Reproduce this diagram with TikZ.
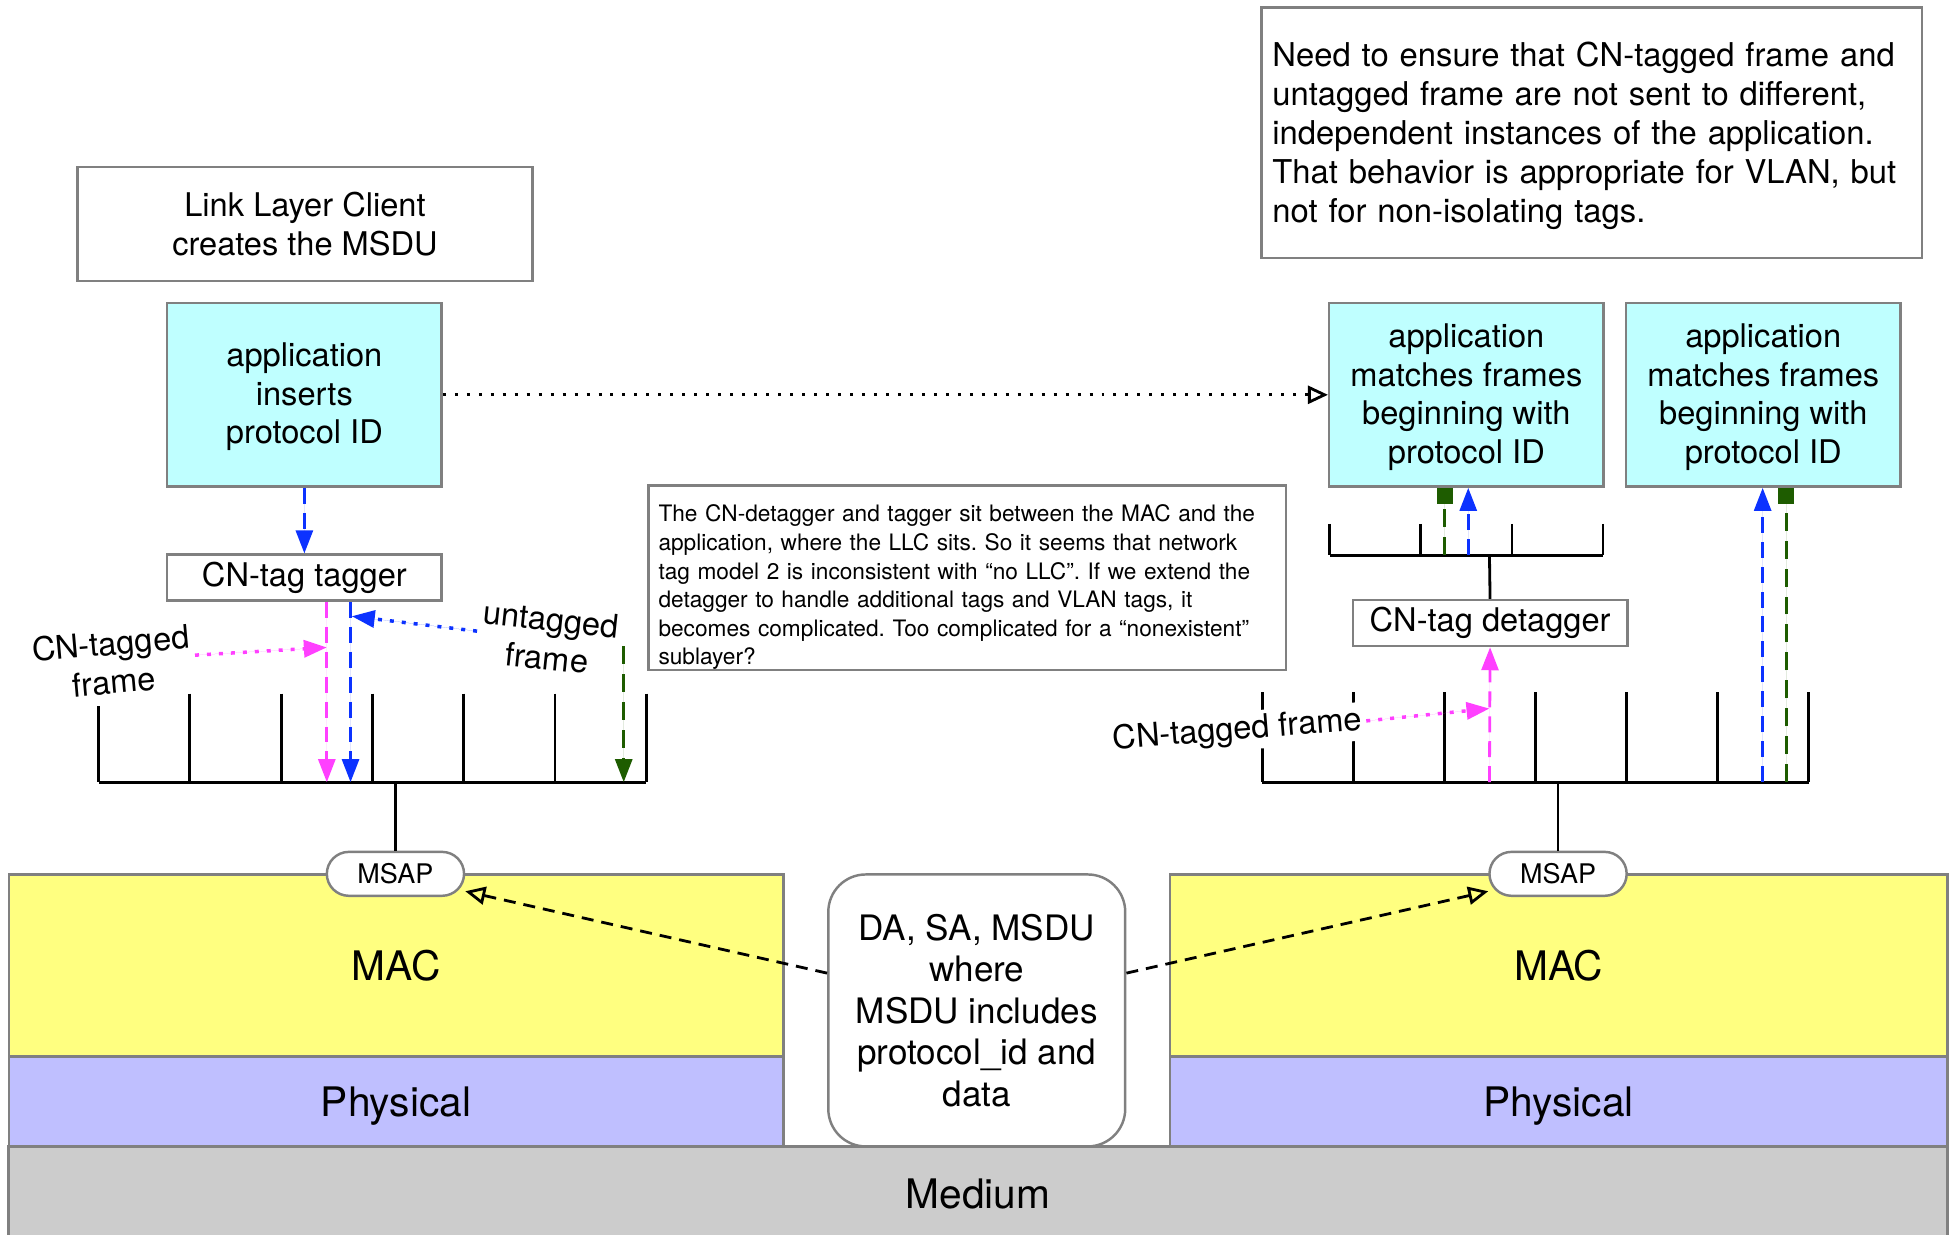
\documentclass[tikz,border=0pt]{standalone}
\usepackage{fontspec}
\setmainfont{TeX Gyre Heros}
\usepackage{xcolor}
\usepackage{tikz}
\usetikzlibrary{arrows.meta,positioning,shapes}
\definecolor{appcyan}{RGB}{191,255,255}
\definecolor{macyellow}{RGB}{255,255,128}
\definecolor{phylav}{RGB}{191,191,255}
\definecolor{medgray}{RGB}{204,204,204}
\definecolor{boxgray}{RGB}{128,128,128}
\definecolor{tagpink}{RGB}{255,64,255}
\definecolor{tagblue}{RGB}{12,50,255}
\definecolor{taggreen}{RGB}{30,92,0}

\begin{document}
\begin{tikzpicture}[x=0.125mm,y=-0.125mm]
    \tikzset{bx/.style={draw=boxgray,line width=0.7pt,inner sep=0pt,anchor=center,align=center,font=\fontsize{9.3}{11}\selectfont},
      appbox/.style={bx,fill=appcyan,minimum width=27.5mm,minimum height=18.4mm},
      tagbox/.style={bx,fill=white,minimum width=27.5mm,minimum height=4.6mm},
      notebox/.style={bx,fill=white,align=left,inner xsep=1mm},
      layer/.style={bx,font=\fontsize{11.6}{14}\selectfont},
      msap/.style={bx,fill=white,rounded corners=2.2mm,minimum width=13.75mm,minimum height=4.4mm,font=\fontsize{7.7}{9}\selectfont},
      lbl/.style={align=center,inner sep=1pt,font=\fontsize{9.3}{11}\selectfont},
      comb/.style={line width=0.8pt},
      ftip/.style={-{Triangle[length=2.3mm,width=1.7mm]}},
      otip/.style={-{Triangle[open,length=2mm,width=1.8mm]}},
      sqtip/.style={-{Square[length=1.6mm,width=1.6mm]}},
      pinkdash/.style={draw=tagpink,fill=tagpink,line width=0.8pt,dash pattern=on 1.6mm off 0.9mm},
      bluedash/.style={draw=tagblue,fill=tagblue,line width=0.8pt,dash pattern=on 1.6mm off 0.9mm},
      greendash/.style={draw=taggreen,fill=taggreen,line width=0.8pt,dash pattern=on 1.8mm off 1mm},
      pinkdot/.style={draw=tagpink,fill=tagpink,line width=1pt,dash pattern=on 0.4mm off 0.8mm},
      bluedot/.style={draw=tagblue,fill=tagblue,line width=1pt,dash pattern=on 0.4mm off 0.8mm}}
    \useasboundingbox (0,0) rectangle (1568,990);
    % layers
    \node[layer,fill=macyellow,minimum width=77.6mm,minimum height=18.25mm] (macL) at (317.5,774) {MAC};
    \node[layer,fill=phylav,minimum width=77.6mm,minimum height=9mm,text depth=0pt] (phyL) at (317.5,883) {Physical};
    \node[layer,fill=macyellow,minimum width=77.9mm,minimum height=18.25mm] (macR) at (1249.5,774) {MAC};
    \node[layer,fill=phylav,minimum width=77.9mm,minimum height=9mm,text depth=0pt] (phyR) at (1249.5,883) {Physical};
    \node[layer,fill=medgray,minimum width=194.25mm,minimum height=9.5mm] (medium) at (784,957) {Medium};
    \node[bx,fill=white,rounded corners=3.75mm,minimum width=29.75mm,minimum height=27.25mm,font=\fontsize{10}{11.8}\selectfont] (msdu) at (783,810) {DA, SA, MSDU\\where\\MSDU includes\\protocol\_id and\\data};
    \node[msap] (msapL) at (317,700.5) {MSAP};
    \node[msap] (msapR) at (1249,700.5) {MSAP};
    % upper boxes
    \node[bx,minimum width=45.6mm,minimum height=11.4mm] (llc) at (244.5,179.5) {Link Layer Client\\creates the MSDU};
    \node[appbox] (appL) at (244,316.5) {\rule{0pt}{8pt}application\\inserts\\protocol ID};
    \node[tagbox] (tagger) at (244,463) {CN-tag tagger};
    \node[appbox] (appR) at (1175.5,316.5) {\rule{0pt}{8pt}application\\matches frames\\beginning with\\protocol ID};
    \node[appbox] (appRR) at (1413.5,316.5) {\rule{0pt}{8pt}application\\matches frames\\beginning with\\protocol ID};
    \node[tagbox] (detagger) at (1194.5,499.5) {CN-tag detagger};
    \node[notebox,text width=61.9mm,minimum height=18.25mm,font=\fontsize{6.46}{8.15}\selectfont\frenchspacing] (noteMid) at (775.5,463) {\rule{0pt}{10.4pt}The CN-detagger and tagger sit between the MAC and the\\application, where the LLC sits. So it seems that network\\tag model 2 is inconsistent with “no LLC”. If we extend the\\detagger to handle additional tags and VLAN tags, it\\becomes complicated. Too complicated for a “nonexistent”\\sublayer?};
    \node[notebox,text width=64mm,inner xsep=1.1mm,minimum height=25.1mm,font=\fontsize{9.35}{11.1}\selectfont\frenchspacing] (noteTop) at (1276,106.5) {\rule{0pt}{8.6pt}Need to ensure that CN-tagged frame and\\untagged frame are not sent to different,\\independent instances of the application.\\That behavior is appropriate for VLAN, but\\not for non-isolating tags.};
    % combs
    \draw[comb] (79,627) -- (518,627);
    \foreach \i in {0,...,6}{
      \ifnum\i=0
        \draw[comb] ({79+73.17*\i},566) -- ({79+73.17*\i},627);
      \else
        \draw[comb] ({79+73.17*\i},556) -- ({79+73.17*\i},627);
      \fi
    }
    \draw[comb] (1012,627) -- (1450,627);
    \foreach \i in {0,...,6}{ \draw[comb] ({1012+73*\i},555) -- ({1012+73*\i},627); }
    \draw[comb] (1066,445) -- (1285,445);
    \foreach \i in {0,...,3}{ \draw[comb] ({1066+73*\i},420) -- ({1066+73*\i},445); }
    \coordinate (stemL) at (317,627);
    \coordinate (stemR) at (1249,627);
    \coordinate (stemD) at (1194,445);
    \draw[comb] (stemL) -- (msapL.north);
    \draw[comb] (stemR) -- (msapR.north);
    \draw[comb] (stemD) -- (detagger.north);
    % frame paths, left
    \coordinate (pinkL) at (262,627);
    \coordinate (blueL) at (281,627);
    \coordinate (greenLtop) at (500,518);
    \coordinate (greenL) at (500,627);
    \coordinate (pinkLhit) at (262,519);
    \coordinate (blueLhit) at (282,494);
    \draw[bluedash,ftip] (appL.south) -- (tagger.north);
    \draw[pinkdash,ftip] (tagger.south -| pinkL) -- (pinkL);
    \draw[bluedash,ftip] (tagger.south -| blueL) -- (blueL);
    \draw[greendash,ftip] (greenLtop) -- (greenL);
    \node[lbl,rotate=5] (lblTagL) at (90,531) {CN-tagged\\frame};
    \node[lbl,rotate=-6] (lblUntag) at (440,512) {untagged\\frame};
    \draw[pinkdot,ftip] (lblTagL.east) -- (pinkLhit);
    \draw[bluedot,ftip] (lblUntag.west) -- (blueLhit);
    % frame paths, right
    \coordinate (pinkR) at (1194,627);
    \coordinate (pinkRhit) at (1194,568);
    \coordinate (greenR) at (1158,445);
    \coordinate (blueR) at (1177,445);
    \coordinate (blueRR) at (1413,627);
    \coordinate (greenRR) at (1432,627);
    \draw[pinkdash,ftip] (pinkR) -- (detagger.south);
    \draw[greendash,sqtip] (greenR) -- (appR.south -| greenR);
    \draw[bluedash,ftip] (blueR) -- (appR.south -| blueR);
    \draw[bluedash,ftip] (blueRR) -- (appRR.south -| blueRR);
    \draw[greendash,sqtip] (greenRR) -- (appRR.south -| greenRR);
    \node[lbl,rotate=4.5,fill=white] (lblTagR) at (992,586) {CN-tagged frame};
    \draw[pinkdot,ftip] (lblTagR.east) -- (pinkRhit);
    % protocol ID and MSDU
    \draw[line width=0.8pt,dash pattern=on 0.3mm off 0.9mm,otip] (appL.east) -- (appR.west);
    \draw[line width=0.8pt,dash pattern=on 1.2mm off 0.8mm,otip] (msdu.166) -- (msapL.-14);
    \draw[line width=0.8pt,dash pattern=on 1.2mm off 0.8mm,otip] (msdu.14) -- (msapR.194);
  \end{tikzpicture}
\end{document}
